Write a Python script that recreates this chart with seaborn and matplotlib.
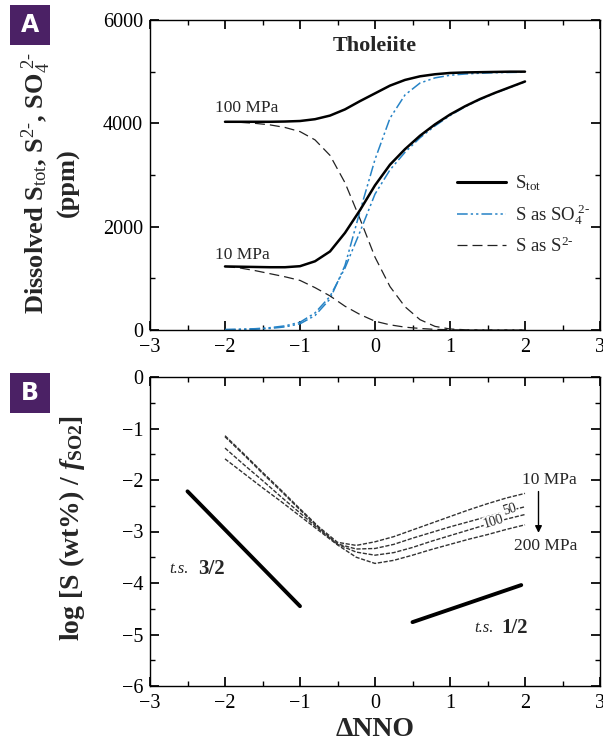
import matplotlib
matplotlib.use("Agg")
import matplotlib.pyplot as plt
import seaborn as sns
import pandas as pd
from matplotlib.lines import Line2D
from matplotlib.patches import Rectangle
from matplotlib.ticker import MultipleLocator

# Panel A : dissolved S vs dNNO (tholeiite)
nno_a = [-2.0, -1.8, -1.6, -1.4, -1.2, -1.0, -0.8, -0.6, -0.4, -0.2, 0.0,
         0.2, 0.4, 0.6, 0.8, 1.0, 1.2, 1.4, 1.6, 1.8, 2.0]
stot_100 = [4030, 4030, 4030, 4030, 4035, 4045, 4080, 4150, 4270, 4430, 4580,
            4730, 4840, 4910, 4950, 4975, 4985, 4990, 4995, 5000, 5000]
so4_100 = [5, 10, 15, 30, 60, 120, 280, 600, 1250, 2300, 3300,
           4100, 4550, 4780, 4880, 4930, 4955, 4970, 4980, 4985, 4990]
s2_100 = [4030, 4020, 4000, 3970, 3920, 3840, 3680, 3380, 2850, 2150, 1410,
          840, 450, 200, 70, 20, 5, 0, 0, 0, 0]
stot_10 = [1230, 1225, 1220, 1215, 1215, 1235, 1330, 1520, 1880, 2320, 2800,
           3200, 3500, 3760, 3980, 4170, 4330, 4470, 4590, 4700, 4810]
so4_10 = [10, 15, 25, 45, 80, 150, 330, 650, 1200, 1900, 2630,
          3100, 3440, 3720, 3950, 4150, 4320, 4460, 4585, 4695, 4805]
s2_10 = [1230, 1200, 1150, 1090, 1030, 960, 820, 660, 460, 300, 170,
         100, 55, 30, 12, 5, 0, 0, 0, 0, 0]

# Panel B : log S/fSO2 vs dNNO for 10, 50, 100, 200 MPa
nno_b = [-2.0, -1.75, -1.5, -1.25, -1.0, -0.75, -0.5, -0.25, 0.0,
         0.25, 0.5, 0.75, 1.0, 1.25, 1.5, 1.75, 2.0]
logs_10 = [-1.14, -1.49, -1.85, -2.20, -2.56, -2.91, -3.21, -3.27, -3.20,
           -3.10, -2.97, -2.84, -2.71, -2.58, -2.46, -2.35, -2.26]
logs_50 = [-1.16, -1.51, -1.87, -2.22, -2.58, -2.93, -3.24, -3.34, -3.33,
           -3.25, -3.13, -3.02, -2.91, -2.81, -2.71, -2.61, -2.52]
logs_100 = [-1.38, -1.70, -2.01, -2.33, -2.64, -2.95, -3.25, -3.40, -3.46,
            -3.41, -3.31, -3.19, -3.08, -2.97, -2.86, -2.76, -2.67]
logs_200 = [-1.59, -1.87, -2.15, -2.42, -2.70, -2.98, -3.26, -3.50, -3.62,
            -3.56, -3.46, -3.35, -3.25, -3.15, -3.06, -2.96, -2.87]
# theoretical slopes
ts32_x = [-2.5, -1.0]
ts32_y = [-2.22, -4.45]
ts12_x = [0.5, 1.95]
ts12_y = [-4.76, -4.04]

BLUE = '#2683c6'
PURPLE = '#4b2165'
DASH_BLUE = (0, (7, 2, 1.5, 2, 1.5, 2))
DASH_LONG = (0, (8, 4))
DASH_FINE = (0, (3, 1.2))

sns.set_theme(style="ticks")
plt.rcParams.update({
    'font.family': ['Liberation Serif', 'DejaVu Serif'],
    'mathtext.fontset': 'custom',
    'mathtext.rm': 'Liberation Serif',
    'mathtext.it': 'Liberation Serif:italic',
    'mathtext.bf': 'Liberation Serif:bold',
    'mathtext.bfit': 'Liberation Serif:italic:bold',
    'xtick.direction': 'in', 'ytick.direction': 'in',
    'xtick.top': True, 'ytick.right': True,
    'xtick.major.size': 6.5, 'ytick.major.size': 6.5,
    'xtick.minor.size': 3.5, 'ytick.minor.size': 3.5,
    'xtick.major.pad': 6, 'ytick.major.pad': 5,
    'xtick.labelsize': 14.5, 'ytick.labelsize': 14.5,
    'axes.linewidth': 1.0, 'axes.edgecolor': 'black',
    'xtick.color': 'black', 'ytick.color': 'black',
})

fig = plt.figure(figsize=(6.03, 7.44), dpi=100)
ax1 = fig.add_axes([150 / 603, 1 - 330 / 744, 450 / 603, 310 / 744])
ax2 = fig.add_axes([150 / 603, 1 - 686 / 744, 450 / 603, 309 / 744])

# ---- panel A
for stot, so4, s2 in [(stot_100, so4_100, s2_100), (stot_10, so4_10, s2_10)]:
    sns.lineplot(x=nno_a, y=s2, ax=ax1, color='#222222', lw=0.9, linestyle=DASH_LONG)
    sns.lineplot(x=nno_a, y=so4, ax=ax1, color=BLUE, lw=1.1, linestyle=DASH_BLUE)
    sns.lineplot(x=nno_a, y=stot, ax=ax1, color='black', lw=1.8)

ax1.set_xlim(-3, 3)
ax1.set_ylim(0, 6000)
ax1.xaxis.set_major_locator(MultipleLocator(1))
ax1.xaxis.set_minor_locator(MultipleLocator(0.5))
ax1.yaxis.set_major_locator(MultipleLocator(2000))
ax1.yaxis.set_minor_locator(MultipleLocator(1000))
ax1.set_xlabel('')
ax1.set_ylabel("Dissolved S$_{\\mathrm{tot}}$, S$^{2\\text{-}}$, SO$_4^{\\ 2\\text{-}}$\n(ppm)",
               fontsize=19, fontweight='bold')
ax1.yaxis.set_label_coords(-0.155, 0.475)

ax1.text(0.0, 5500, 'Tholeiite', fontsize=16, fontweight='bold', ha='center', va='center')
ax1.text(-2.13, 4300, '100 MPa', fontsize=12.5, ha='left', va='center')
ax1.text(-2.13, 1460, '10 MPa', fontsize=12.5, ha='left', va='center')

handles = [
    Line2D([], [], color='black', lw=2.2),
    Line2D([], [], color=BLUE, lw=1.1, linestyle=DASH_BLUE),
    Line2D([], [], color='#222222', lw=0.9, linestyle=DASH_LONG),
]
labels = ["S$_{\\mathrm{tot}}$", "S as SO$_4^{\\ 2\\text{-}}$", "S as S$^{2\\text{-}}$"]
ax1.legend(handles, labels, loc='upper left', bbox_to_anchor=(0.683, 0.505),
           frameon=False, fontsize=13.5, handlelength=2.6, handletextpad=0.45,
           borderpad=0, borderaxespad=0, labelspacing=0.5)

# ---- panel B
for vals in [logs_10, logs_50, logs_100, logs_200]:
    sns.lineplot(x=nno_b, y=vals, ax=ax2, color='#333333', lw=1.0, linestyle=DASH_FINE)
sns.lineplot(x=ts32_x, y=ts32_y, ax=ax2, color='black', lw=2.8)
sns.lineplot(x=ts12_x, y=ts12_y, ax=ax2, color='black', lw=2.8)

ax2.set_xlim(-3, 3)
ax2.set_ylim(-6, 0)
ax2.xaxis.set_major_locator(MultipleLocator(1))
ax2.xaxis.set_minor_locator(MultipleLocator(0.5))
ax2.yaxis.set_major_locator(MultipleLocator(1))
ax2.yaxis.set_minor_locator(MultipleLocator(0.5))
ax2.set_xlabel('ΔNNO', fontsize=20, fontweight='bold', labelpad=3)
ax2.set_ylabel("log [S (wt%) / $\\mathbfit{f}_{\\mathbf{SO2}}$]", fontsize=20, fontweight='bold')
ax2.yaxis.set_label_coords(-0.14, 0.51)

ax2.text(-2.74, -3.73, 't.s.', fontsize=12, style='italic', ha='left', va='center')
ax2.text(-2.36, -3.73, '3/2', fontsize=15, fontweight='bold', ha='left', va='center')
ax2.text(1.33, -4.87, 't.s.', fontsize=12, style='italic', ha='left', va='center')
ax2.text(1.69, -4.87, '1/2', fontsize=15, fontweight='bold', ha='left', va='center')
ax2.text(2.33, -2.0, '10 MPa', fontsize=12.5, ha='center', va='center')
ax2.text(2.28, -3.29, '200 MPa', fontsize=12.5, ha='center', va='center')
ax2.annotate('', xy=(2.18, -3.08), xytext=(2.18, -2.17),
             arrowprops=dict(arrowstyle='-|>', color='black', lw=1.0, mutation_scale=10))
ax2.text(1.79, -2.57, '50', fontsize=10, rotation=17, ha='center', va='center',
         bbox=dict(fc='white', ec='none', pad=0.2))
ax2.text(1.58, -2.80, '100', fontsize=10, rotation=17, ha='center', va='center',
         bbox=dict(fc='white', ec='none', pad=0.2))

# panel letters
for letter, top in [('A', 5), ('B', 373)]:
    fig.add_artist(Rectangle((10 / 603, 1 - (top + 40) / 744), 40 / 603, 40 / 744,
                             transform=fig.transFigure, facecolor=PURPLE, edgecolor='none'))
    fig.text(30 / 603, 1 - (top + 20) / 744, letter, color='white', fontsize=17,
             fontweight='bold', family='DejaVu Sans', ha='center', va='center')

fig.savefig('out.png', dpi=100)
